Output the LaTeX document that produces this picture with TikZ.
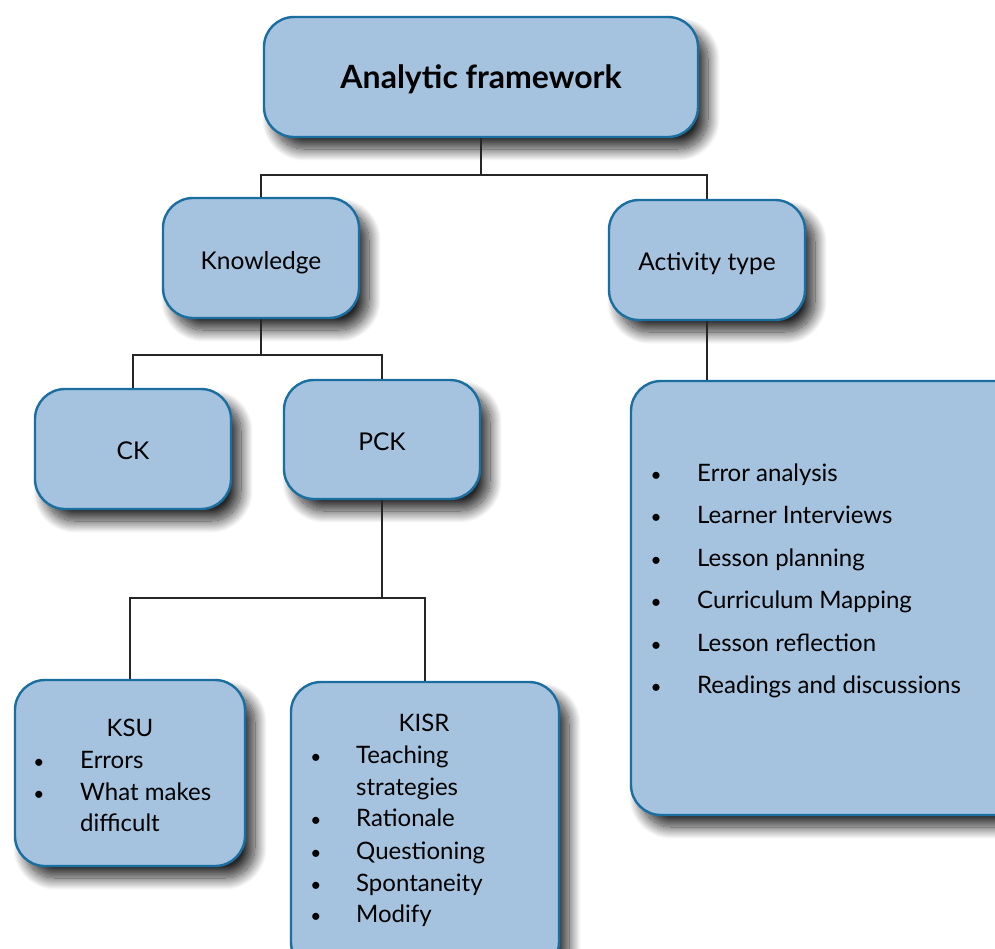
\documentclass[tikz,border=0pt]{standalone}
\usepackage{fontspec}
\setmainfont{Lato}
\usetikzlibrary{shadows.blur}
\definecolor{boxfill}{RGB}{165,194,222}
\definecolor{boxline}{RGB}{27,110,160}
\tikzset{
  box/.style={draw=boxline, line width=2.4pt, fill=boxfill, rounded corners=30pt,
    blur shadow={shadow xshift=10pt, shadow yshift=-12pt, shadow blur radius=12pt, shadow blur steps=24, shadow opacity=85},
    inner sep=0pt, font=\fontsize{24.5}{28}\selectfont},
  conn/.style={draw=black!85, line width=2.8pt},
  item/.style={anchor=base west, inner sep=0pt, font=\fontsize{24}{28}\selectfont},
  bul/.style={anchor=base, inner sep=0pt, font=\fontsize{19}{28}\selectfont},
  head/.style={anchor=base, inner sep=0pt, font=\fontsize{24}{28}\selectfont},
}
\newcommand{\dn}[2]{\raisebox{-#1pt}[0pt][0pt]{#2}}
\begin{document}
\begin{tikzpicture}[x=1pt,y=-1pt]
\useasboundingbox (0,0) rectangle (995,948);
% boxes
\node[box, minimum width=434pt, minimum height=120pt, font=\fontsize{32}{36}\selectfont\bfseries] (top) at (481,77) {\dn{11}{Analytic framework}};
\node[box, minimum width=196pt, minimum height=120pt] (know) at (261,258) {\dn{11}{Knowledge}};
\node[box, minimum width=196pt, minimum height=120pt] (act) at (707,260) {\dn{10}{Activity type}};
\node[box, minimum width=196pt, minimum height=120pt] (ck) at (133,449) {\dn{10}{CK}};
\node[box, minimum width=196pt, minimum height=119pt] (pck) at (382,439.5) {\dn{10.5}{PCK}};
\node[box, minimum width=230pt, minimum height=186pt] (ksu) at (130,773) {};
\node[box, minimum width=268pt, minimum height=290pt] (kisr) at (425,827) {};
\node[box, minimum width=400pt, minimum height=434pt] (list) at (831,598) {};
% connectors
\coordinate (j1) at (481,175);
\coordinate (j2) at (261,355);
\coordinate (j3) at (382,598);
\draw[conn] (top.south) -- (j1);
\draw[conn] (j1) -| (know.north);
\draw[conn] (j1) -| (act.north);
\draw[conn] (know.south) -- (j2);
\draw[conn] (j2) -| (ck.north);
\draw[conn] (j2) -| (pck.north);
\draw[conn] (pck.south) -- (j3);
\draw[conn] (j3) -| (ksu.north);
\draw[conn] (j3) -| (kisr.north);
\draw[conn] (act.south) -- (list.north -| act.south);
% KSU text
\node[head] (ksuh) at (130,736) {KSU};
\node[bul] (kb1) at (39,768) {•};
\node[item] (k1) at (80,768) {Errors};
\node[bul] (kb2) at (39,800) {•};
\node[item] (k2) at (80,800) {What makes};
\node[item] (k3) at (80,831) {difficult};
% KISR text
\node[head] (kisrh) at (424,731) {KISR};
\node[bul] (sb1) at (316,763) {•};
\node[item] (s1) at (356,763) {Teaching};
\node[item] (s1b) at (356,795) {strategies};
\node[bul] (sb2) at (316,826) {•};
\node[item] (s2) at (356,826) {Rationale};
\node[bul] (sb3) at (316,859) {•};
\node[item] (s3) at (356,859) {Questioning};
\node[bul] (sb4) at (316,891) {•};
\node[item] (s4) at (356,891) {Spontaneity};
\node[bul] (sb5) at (316,922) {•};
\node[item] (s5) at (356,922) {Modify};
% activity list
\node[bul] (ab1) at (656,481) {•};
\node[item] (a1) at (697,481) {Error analysis};
\node[bul] (ab2) at (656,523) {•};
\node[item] (a2) at (697,523) {Learner Interviews};
\node[bul] (ab3) at (656,566) {•};
\node[item] (a3) at (697,566) {Lesson planning};
\node[bul] (ab4) at (656,608) {•};
\node[item] (a4) at (697,608) {Curriculum Mapping};
\node[bul] (ab5) at (656,651) {•};
\node[item] (a5) at (697,651) {Lesson reflection};
\node[bul] (ab6) at (656,693) {•};
\node[item] (a6) at (697,693) {Readings and discussions};
\end{tikzpicture}
\end{document}
